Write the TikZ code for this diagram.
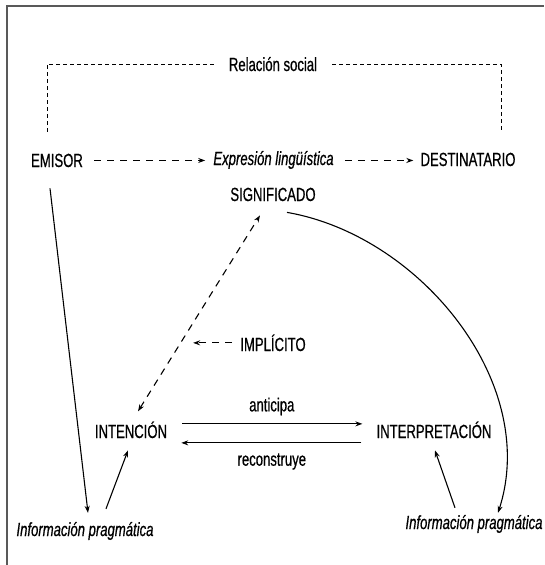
\documentclass[tikz,border=0pt]{standalone}
\usepackage{fontspec}
\setmainfont{Liberation Sans}[FakeStretch=0.69,FakeBold=0.6]
\usetikzlibrary{arrows.meta}

\begin{document}
\begin{tikzpicture}[x=1pt,y=-1pt,
		txt/.style={inner sep=2pt,font=\fontsize{19}{22}\selectfont},
		itxt/.style={inner sep=2pt,font=\fontsize{19}{22}\selectfont\itshape},
		tip/.style={-{Stealth[length=7pt,width=5pt]}},
		tips/.style={{Stealth[length=7pt,width=5pt]}-{Stealth[length=7pt,width=5pt]}},
		arrow/.style={tip,line width=1.1pt},
		dasharrow/.style={arrow,dash pattern=on 7pt off 6pt},
		reldash/.style={line width=1pt,dash pattern=on 4pt off 3pt}]
			
			% Frame
			\useasboundingbox (0,0) rectangle (544,565);
			\draw[line width=1.6pt,black!65] (7,565) -- (7,6) -- (544,6);
			
			% Nodes
			% top row
			\node[txt,anchor=base] (rel) at (273,71) {Relación social};
			\node[txt,anchor=base] (emisor) at (57,167) {EMISOR};
			\node[itxt,anchor=base] (expr) at (273.5,165) {Expresión lingüística};
			\node[txt,anchor=base] (dest) at (468,166) {DESTINATARIO};
			\node[txt,anchor=base] (sig) at (273,201) {SIGNIFICADO};
			% middle
			\node[txt,anchor=base] (impl) at (273,351) {IMPLÍCITO};
			\node[txt,anchor=base] (int) at (131,438) {INTENCIÓN};
			\node[txt,anchor=base] (interp) at (434,438) {INTERPRETACIÓN};
			% bottom
			\node[itxt,anchor=base] (infoL) at (85,536) {Información pragmática};
			\node[itxt,anchor=base] (infoR) at (474,529) {Información pragmática};
			
			% Relacion social
			\coordinate (relL) at (47,133);
			\coordinate (relR) at (501,133);
			\draw[reldash] ([xshift=-13pt]rel.west) -| (relL);
			\draw[reldash] ([xshift=13pt]rel.east) -| (relR);
			
			% Dashed arrows
			\draw[dasharrow,shorten <=9pt,shorten >=6pt] (emisor.east) -- (emisor.east -| expr.west);
			\draw[dasharrow,shorten <=9pt,shorten >=5pt] (emisor.east -| expr.east) -- (emisor.east -| dest.west);
			\draw[dasharrow,tips] ([xshift=7pt,yshift=8pt]int.north) -- ([xshift=-13pt,yshift=-12pt]sig.south);
			\draw[dasharrow,shorten <=6pt] (impl.west) -- ++(-45,0);
			
			% Solid arrows
			\draw[arrow] ([xshift=-7pt,yshift=-19pt]emisor.south) -- ([xshift=3pt,yshift=7pt]infoL.north);
			\draw[arrow] ([xshift=21pt,yshift=11pt]infoL.north) -- ([xshift=-3pt,yshift=-10pt]int.south);
			\draw[arrow] ([xshift=-19pt,yshift=5pt]infoR.north) -- ([xshift=1pt,yshift=-10pt]interp.south);
			\draw[arrow] ([xshift=14pt,yshift=-9pt]sig.south) .. controls +(133,23) and +(42,-130) .. ([xshift=24pt]infoR.north);
			
			% anticipa / reconstruye
			\draw[arrow,shorten <=13pt,shorten >=12pt] ([yshift=6pt]int.east) -- ([yshift=6pt]int.east -| interp.west)
				node[midway,above=6pt,txt] (antic) {anticipa};
			\draw[arrow,shorten <=13pt,shorten >=12pt] ([yshift=-13pt]int.east -| interp.west) -- ([yshift=-13pt]int.east)
				node[midway,below=8pt,txt] (recon) {reconstruye};
			
		\end{tikzpicture}
\end{document}
